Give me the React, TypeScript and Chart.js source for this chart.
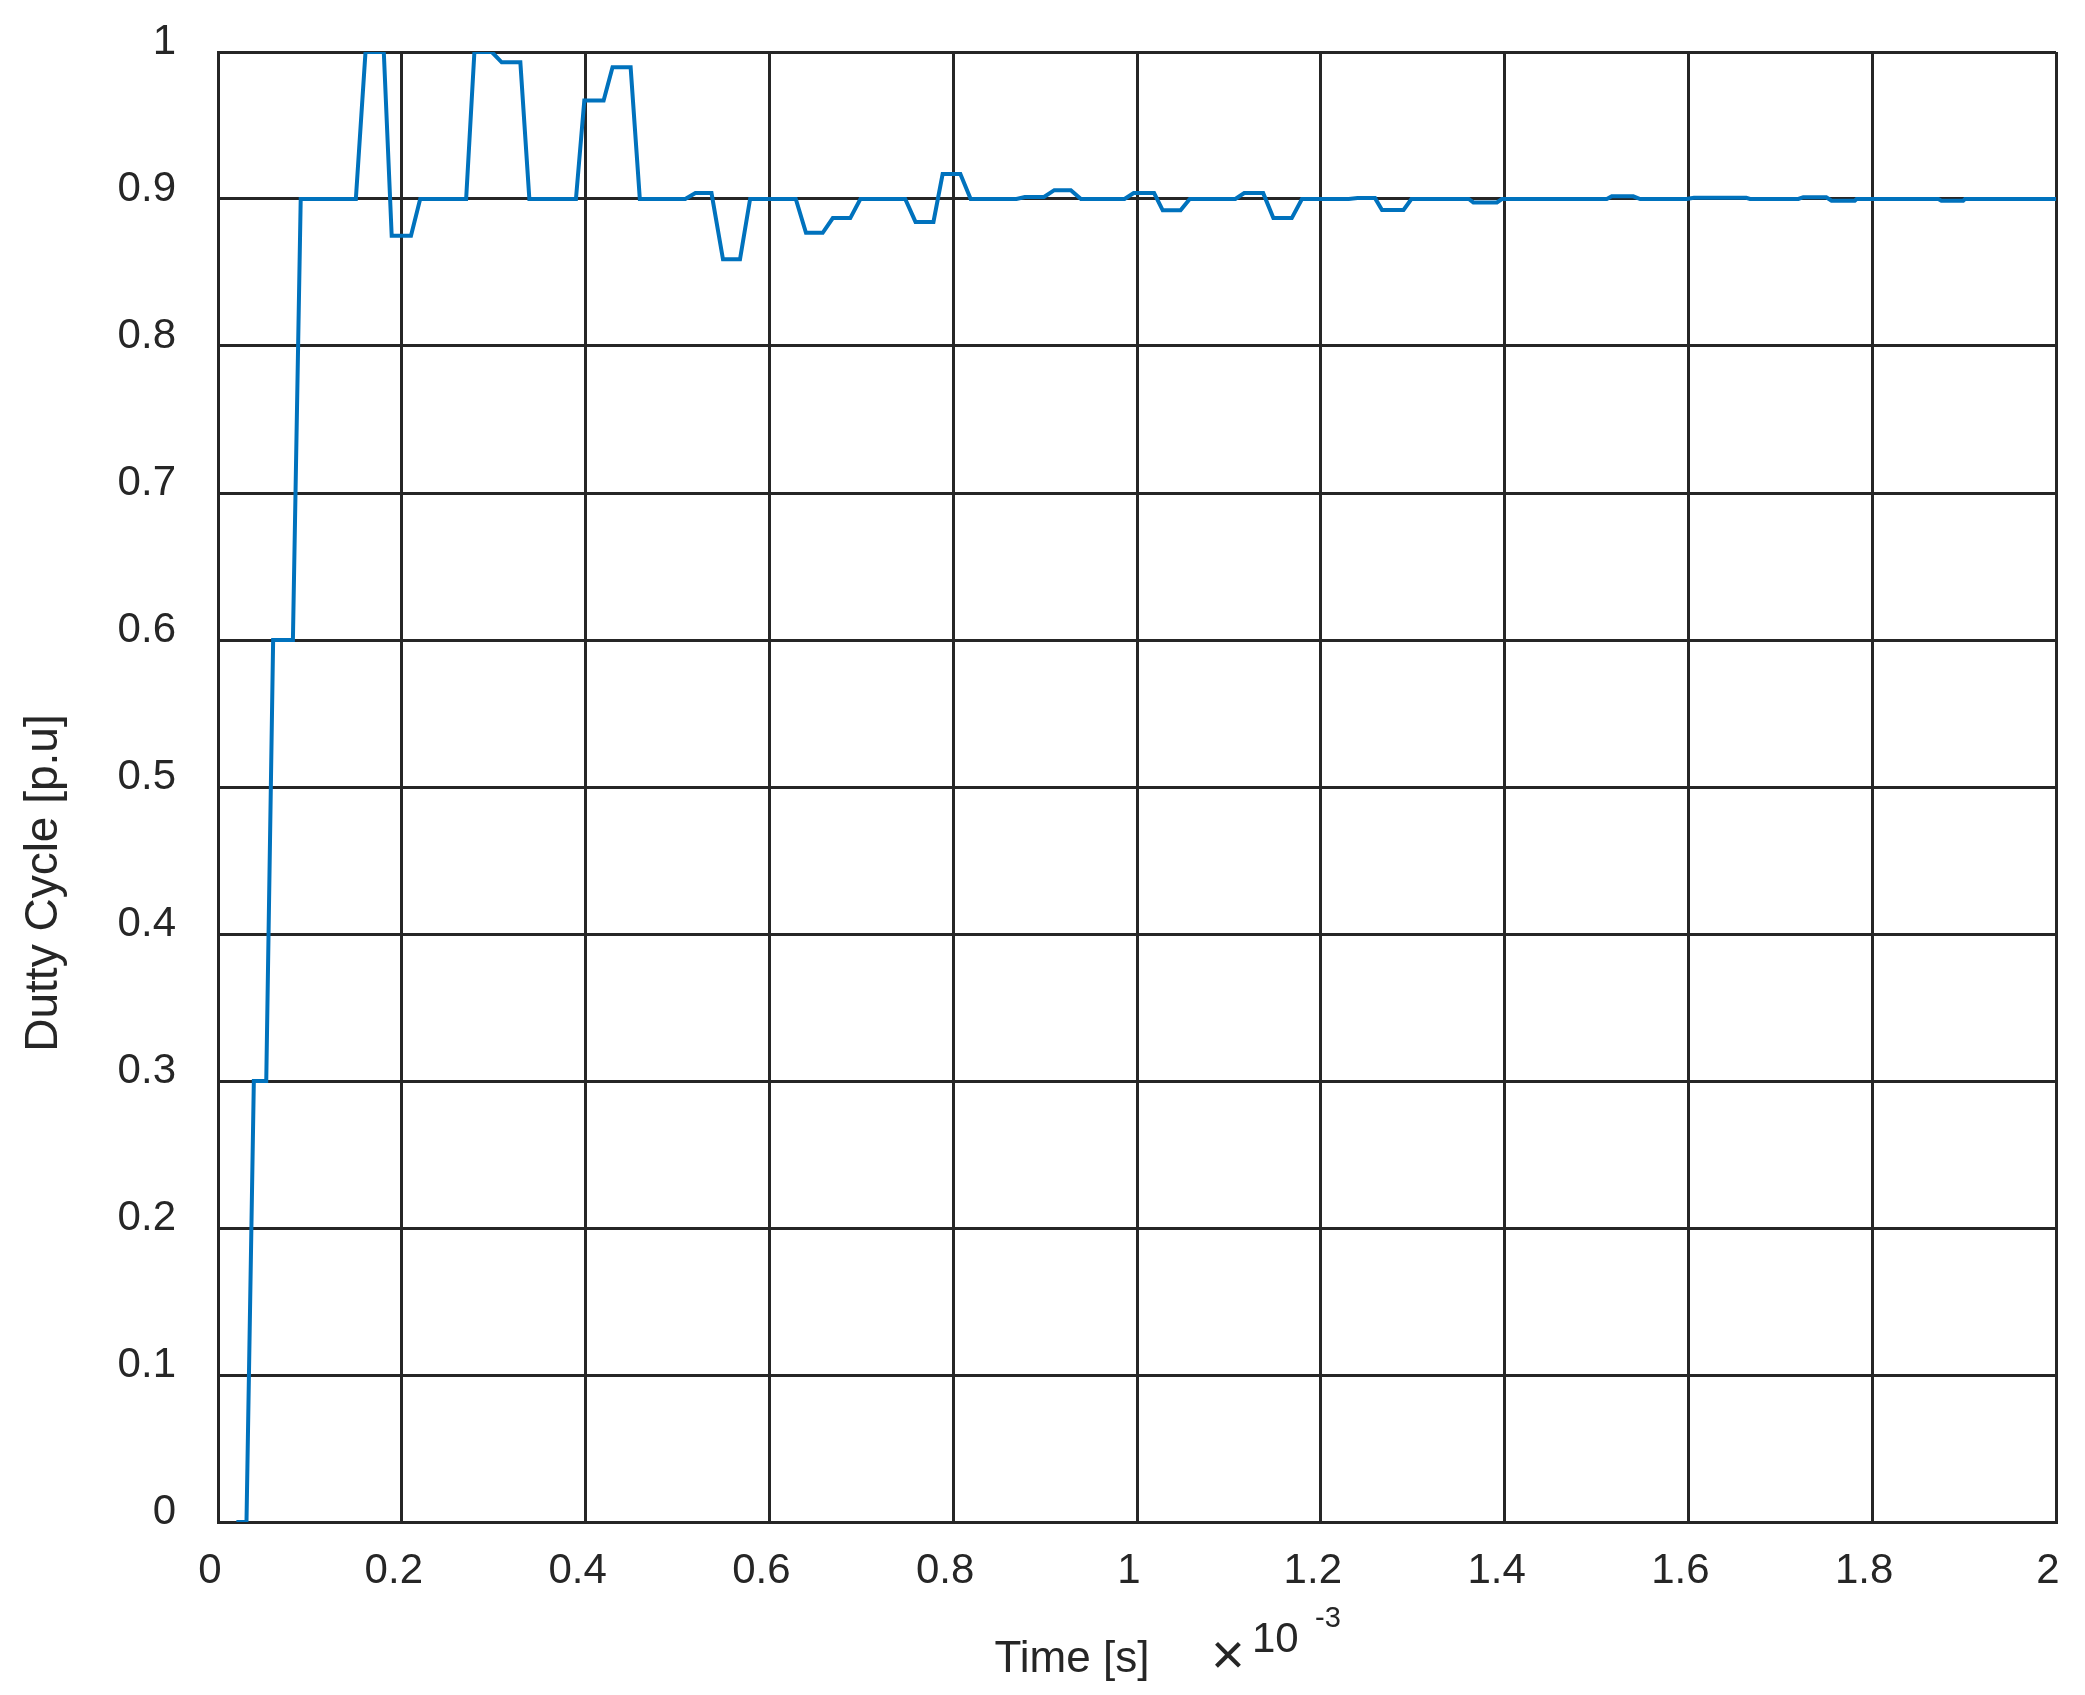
import React, { useEffect, useRef } from "react";
import Chart from "chart.js/auto";

// time axis is in units of 1e-3 s (shown as "x 10^-3" under the axis)
const timeMs = [
  0.02, 0.031, 0.039, 0.0525, 0.06, 0.0815, 0.09, 0.15, 0.1605, 0.1804,
  0.189, 0.21, 0.22, 0.27, 0.279, 0.298, 0.3087, 0.329, 0.3388, 0.3895,
  0.3986, 0.4196, 0.4293, 0.449, 0.459, 0.5084, 0.5195, 0.537, 0.5495, 0.568,
  0.579, 0.6287, 0.6398, 0.658, 0.669, 0.688, 0.699, 0.7478, 0.759, 0.7785,
  0.7885, 0.8078, 0.819, 0.8688, 0.878, 0.8988, 0.91, 0.928, 0.939, 0.9864,
  0.9964, 1.0186, 1.028, 1.0474, 1.0574, 1.107, 1.1167, 1.1373, 1.1484, 1.1684,
  1.1795, 1.2304, 1.24, 1.259, 1.2666, 1.29, 1.2986, 1.361, 1.366, 1.3917,
  1.397, 1.5112, 1.5166, 1.54, 1.5475, 1.598, 1.606, 1.663, 1.667, 1.7196,
  1.725, 1.75, 1.7558, 1.781, 1.783, 1.872, 1.8753, 1.899, 1.901, 2.0,
];

const dutyCycle = [
  0, 0, 0.3, 0.3, 0.6, 0.6, 0.9, 0.9, 1.0, 1.0,
  0.875, 0.875, 0.9, 0.9, 1.0, 1.0, 0.993, 0.993, 0.9, 0.9,
  0.967, 0.967, 0.9896, 0.9896, 0.9, 0.9, 0.904, 0.904, 0.859, 0.859,
  0.9, 0.9, 0.877, 0.877, 0.887, 0.887, 0.9, 0.9, 0.8844, 0.8844,
  0.917, 0.917, 0.9, 0.9, 0.9014, 0.9014, 0.906, 0.906, 0.9, 0.9,
  0.904, 0.904, 0.8923, 0.8923, 0.9, 0.9, 0.904, 0.904, 0.887, 0.887,
  0.9, 0.9, 0.9006, 0.9006, 0.8925, 0.8925, 0.9, 0.9, 0.8977, 0.8977,
  0.9, 0.9, 0.9018, 0.9018, 0.9, 0.9, 0.9008, 0.9008, 0.9, 0.9,
  0.9012, 0.9012, 0.8988, 0.8988, 0.9, 0.9, 0.8988, 0.8988, 0.9, 0.9,
];

const xTickValues = [0, 0.2, 0.4, 0.6, 0.8, 1, 1.2, 1.4, 1.6, 1.8, 2];
const xTickLabels = ["0", "0.2", "0.4", "0.6", "0.8", "1", "1.2", "1.4", "1.6", "1.8", "2"];
const yTickValues = [0, 0.1, 0.2, 0.3, 0.4, 0.5, 0.6, 0.7, 0.8, 0.9, 1];
const yTickLabels = ["0", "0.1", "0.2", "0.3", "0.4", "0.5", "0.6", "0.7", "0.8", "0.9", "1"];

const xTitle = "Time [s]";
const yTitle = "Dutty Cycle [p.u]";

const FONT = '"Liberation Sans", Arial, Helvetica, sans-serif';
const INK = "#262626";
const LINE_BLUE = "#0072BD";

// draws the axis titles and the x10^-3 exponent the way MATLAB places them
const axisTitlePlugin = {
  id: "axisTitles",
  afterDraw(chart: any) {
    const { ctx } = chart;
    ctx.save();
    ctx.fillStyle = INK;

    // x title
    ctx.font = `44px ${FONT}`;
    ctx.textAlign = "center";
    ctx.textBaseline = "alphabetic";
    ctx.fillText(xTitle, 1072, 1672);

    // x 10^-3
    ctx.font = `58px ${FONT}`;
    ctx.textBaseline = "middle";
    ctx.fillText("\u00d7", 1228, 1658);
    ctx.font = `42px ${FONT}`;
    ctx.textAlign = "left";
    ctx.textBaseline = "alphabetic";
    ctx.fillText("10", 1252, 1652);
    ctx.font = `29px ${FONT}`;
    ctx.fillText("-3", 1315, 1627);

    // y title
    ctx.translate(57, 883);
    ctx.rotate(-Math.PI / 2);
    ctx.font = `46px ${FONT}`;
    ctx.textAlign = "center";
    ctx.textBaseline = "alphabetic";
    ctx.fillText(yTitle, 0, 0);
    ctx.restore();
  },
};

const App = () => {
  const canvasRef: any = useRef(null);
  const chartInstance: any = useRef(null);

  useEffect(() => {
    document.body.style.margin = "0";
    if (canvasRef.current) {
      const ctx = canvasRef.current.getContext("2d");
      chartInstance.current = new Chart(ctx, {
        type: "line",
        data: {
          datasets: [
            {
              label: "Duty",
              data: timeMs.map((t, i) => ({ x: t, y: dutyCycle[i] })),
              borderColor: LINE_BLUE,
              borderWidth: 4,
              pointRadius: 0,
              tension: 0,
              fill: false,
            },
          ],
        },
        options: {
          animation: false,
          responsive: false,
          devicePixelRatio: 1,
          layout: { padding: { top: 52, right: 29, bottom: 0, left: 0 } },
          plugins: {
            legend: { display: false },
            tooltip: { enabled: false },
          },
          scales: {
            x: {
              type: "linear",
              min: 0,
              max: 2,
              afterBuildTicks: (axis: any) => {
                axis.ticks = xTickValues.map((v) => ({ value: v }));
              },
              afterFit: (axis: any) => {
                axis.height = 173;
                axis.paddingLeft = 0;
                axis.paddingRight = 0;
              },
              ticks: {
                color: INK,
                font: { family: FONT, size: 42 },
                padding: 24,
                labelOffset: -8,
                maxRotation: 0,
                autoSkip: false,
                callback: (_v: any, i: number) => xTickLabels[i],
              },
              grid: { color: INK, lineWidth: 3, drawTicks: false },
              border: { color: INK, width: 3 },
            },
            y: {
              type: "linear",
              min: 0,
              max: 1,
              afterBuildTicks: (axis: any) => {
                axis.ticks = yTickValues.map((v) => ({ value: v }));
              },
              afterFit: (axis: any) => {
                axis.width = 218;
                axis.paddingTop = 0;
                axis.paddingBottom = 0;
              },
              ticks: {
                color: INK,
                font: { family: FONT, size: 42 },
                padding: 42,
                labelOffset: -10,
                autoSkip: false,
                callback: (_v: any, i: number) => yTickLabels[i],
              },
              grid: { color: INK, lineWidth: 3, drawTicks: false },
              border: { color: INK, width: 3 },
            },
          },
        },
        plugins: [axisTitlePlugin],
      });
    }

    return () => {
      if (chartInstance.current) {
        chartInstance.current.destroy();
      }
    };
  }, []);

  return (
    <div
      style={{
        position: "fixed",
        left: 0,
        top: 0,
        width: 2085,
        height: 1695,
        background: "#ffffff",
        overflow: "hidden",
      }}
    >
      <canvas ref={canvasRef} width={2085} height={1695} style={{ display: "block" }}></canvas>
    </div>
  );
};

export default App;
